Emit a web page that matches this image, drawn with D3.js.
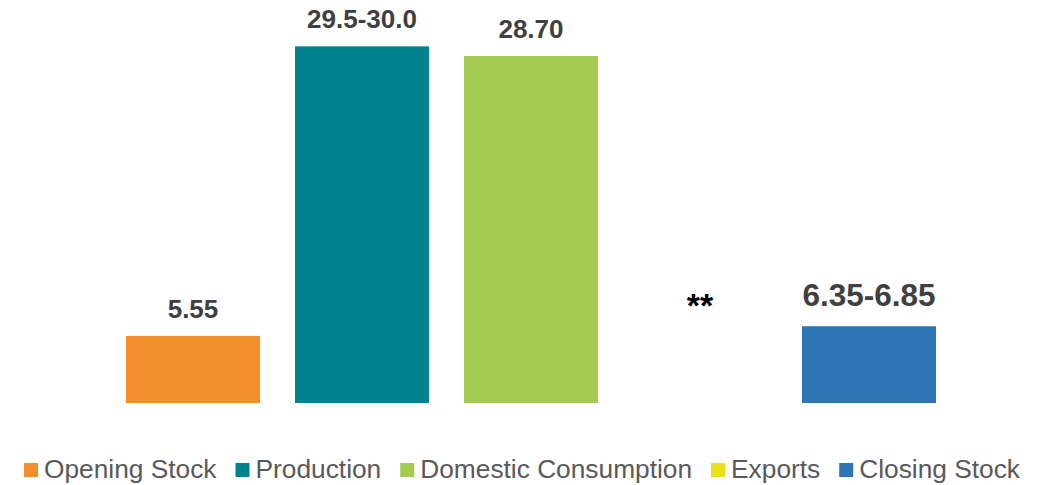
<!DOCTYPE html>
<html><head><meta charset="utf-8">
<script src="https://cdn.jsdelivr.net/npm/d3@7"></script>
<style>body{margin:0;background:#fff;}svg{display:block;font-family:"Liberation Sans",Arial,sans-serif;}</style>
</head><body><svg id="c" width="1043" height="485"></svg>
<script>
const categories = ["Opening Stock","Production","Domestic Consumption","Exports","Closing Stock"];
const values = [5.55, 29.5, 28.7, 0, 6.35];
const labels = ["5.55","29.5-30.0","28.70","**","6.35-6.85"];
const labelAnchors = [5.55, 29.5, 28.7, 7.1, 6.35];
const colors = ["#F28F2A","#00828F","#A3CB4F","#E8E01A","#2E75B6"];

const svg = d3.select("#c");
const x = d3.scaleBand().domain(categories).range([108.5, 953.5]).paddingInner(0.207).paddingOuter(0.1035);
const y = d3.scaleLinear().domain([0, 30]).range([403, 40.3]);

svg.append("g").selectAll("rect").data(categories).join("rect")
  .attr("x", d => x(d)).attr("width", x.bandwidth())
  .attr("y", (d,i) => y(values[i])).attr("height", (d,i) => y(0) - y(values[i]))
  .attr("fill", (d,i) => colors[i]);

svg.append("g").selectAll("text").data(categories).join("text")
  .attr("x", d => x(d) + x.bandwidth()/2)
  .attr("y", (d,i) => y(labelAnchors[i]) - (i===3 ? 0 : (i===4 ? 20 : 18)))
  .attr("text-anchor", "middle")
  .attr("font-weight", "bold")
  .attr("font-size", (d,i) => i===4 ? 31.5 : (i===3 ? 34 : 26))
  .attr("fill", (d,i) => i===3 ? "#000" : "#404040")
  .text((d,i) => labels[i]);

const lg = svg.append("g");
let cx = 24;
categories.forEach((c,i) => {
  lg.append("rect").attr("x", cx).attr("y", 463).attr("width", 14).attr("height", 14).attr("fill", colors[i]);
  const t = lg.append("text").attr("x", cx + 20).attr("y", 478).attr("font-size", 26.3).attr("fill", "#595959").text(c);
  cx += 20 + t.node().getComputedTextLength() + 19;
});
</script></body></html>
